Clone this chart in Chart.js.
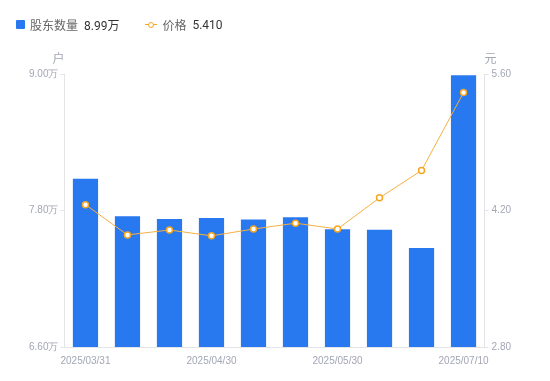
<!DOCTYPE html>
<html>
<head>
<meta charset="utf-8">
<script src="https://cdn.jsdelivr.net/npm/chart.js@4"></script>
<style>
    body { margin: 0; background: #fff; font-family: Roboto, "Noto Sans CJK SC", sans-serif; }
    #wrap { position: relative; width: 550px; height: 381px; }
    #legend { position: absolute; left: 16px; top: 16px; font-size: 12px; color: #666; display: flex; align-items: center; }
    #legend .item { display: flex; align-items: center; margin-right: 26px; }
    #legend .val { color: #333; margin-left: 6px; }
    #legend .sq { width: 9px; height: 9px; background: #2878f0; border-radius: 1px; margin-right: 5px; }
    #legend .ln { position: relative; width: 12px; height: 9px; margin-right: 5px; }
    #legend .ln:before { content: ''; position: absolute; left: 0; right: 0; top: 4px; height: 1px; background: #f5a623; }
    #legend .ln:after { content: ''; position: absolute; left: 3px; top: 1.5px; width: 4px; height: 4px; border: 1.5px solid #f5a623; border-radius: 50%; background: #fff; }
</style>
</head>
<body>
<div id="wrap">
    <div id="legend">
        <div class="item"><span class="sq"></span>股东数量<span class="val">8.99万</span></div>
        <div class="item"><span class="ln"></span>价格<span class="val">5.410</span></div>
    </div>
    <canvas id="chart" width="550" height="381"></canvas>
</div>
<script>
// chart data
const dates = ['2025/03/31', '2025/04/10', '2025/04/20', '2025/04/30', '2025/05/09',
    '2025/05/20', '2025/05/30', '2025/06/10', '2025/06/20', '2025/07/10'];
const holders = [8.08, 7.75, 7.725, 7.735, 7.72, 7.74, 7.635, 7.63, 7.47, 8.99]; // 万户
const prices = [4.26, 3.95, 4.00, 3.94, 4.01, 4.07, 4.01, 4.33, 4.61, 5.41];   // 元
const shownLabels = [0, 3, 6, 9];

const tickColor = '#a3a6b4';
const axisColor = '#e3e4e8';

const axisUnits = {
    id: 'axisUnits',
    afterDraw(chart) {
        const ctx = chart.ctx;
        const top = chart.chartArea.top;
        ctx.save();
        ctx.font = '12px Roboto, "Noto Sans CJK SC", sans-serif';
        ctx.fillStyle = tickColor;
        ctx.textBaseline = 'bottom';
        ctx.textAlign = 'center';
        ctx.fillText('户', chart.scales.y.right - 6, top - 8);
        ctx.fillText('元', chart.scales.y1.left + 6, top - 8);
        ctx.restore();
    }
};

new Chart(document.getElementById('chart'), {
    data: {
        labels: dates,
        datasets: [
            {
                type: 'line',
                label: '价格',
                data: prices,
                yAxisID: 'y1',
                borderColor: '#f5b042',
                borderWidth: 1,
                pointRadius: 3,
                pointBorderWidth: 1.5,
                pointBorderColor: '#f5a623',
                pointBackgroundColor: '#fff',
                tension: 0,
                order: 0
            },
            {
                type: 'bar',
                label: '股东数量',
                data: holders,
                yAxisID: 'y',
                backgroundColor: '#2878f0',
                barPercentage: 0.6,
                categoryPercentage: 1,
                order: 1
            }
        ]
    },
    options: {
        responsive: false,
        animation: false,
        layout: { padding: { top: 74, left: 27, right: 36, bottom: 14 } },
        plugins: {
            legend: { display: false },
            tooltip: { enabled: false }
        },
        scales: {
            x: {
                offset: true,
                grid: { display: false },
                border: { color: axisColor },
                ticks: {
                    color: tickColor,
                    font: { size: 10 },
                    autoSkip: false,
                    maxRotation: 0,
                    padding: 0,
                    callback: (v, i) => shownLabels.includes(i) ? dates[i] : ''
                }
            },
            y: {
                position: 'left',
                min: 6.6,
                max: 9.0,
                grid: { drawOnChartArea: false, color: axisColor, tickLength: 4 },
                border: { color: axisColor },
                ticks: {
                    stepSize: 1.2,
                    color: tickColor,
                    font: { size: 10 },
                    padding: 2,
                    callback: v => v.toFixed(2) + '万'
                }
            },
            y1: {
                position: 'right',
                min: 2.8,
                max: 5.6,
                grid: { drawOnChartArea: false, color: axisColor, tickLength: 4 },
                border: { color: axisColor },
                ticks: {
                    stepSize: 1.4,
                    color: tickColor,
                    font: { size: 10 },
                    padding: 3,
                    callback: v => v.toFixed(2)
                }
            }
        }
    },
    plugins: [axisUnits]
});
</script>
</body>
</html>
